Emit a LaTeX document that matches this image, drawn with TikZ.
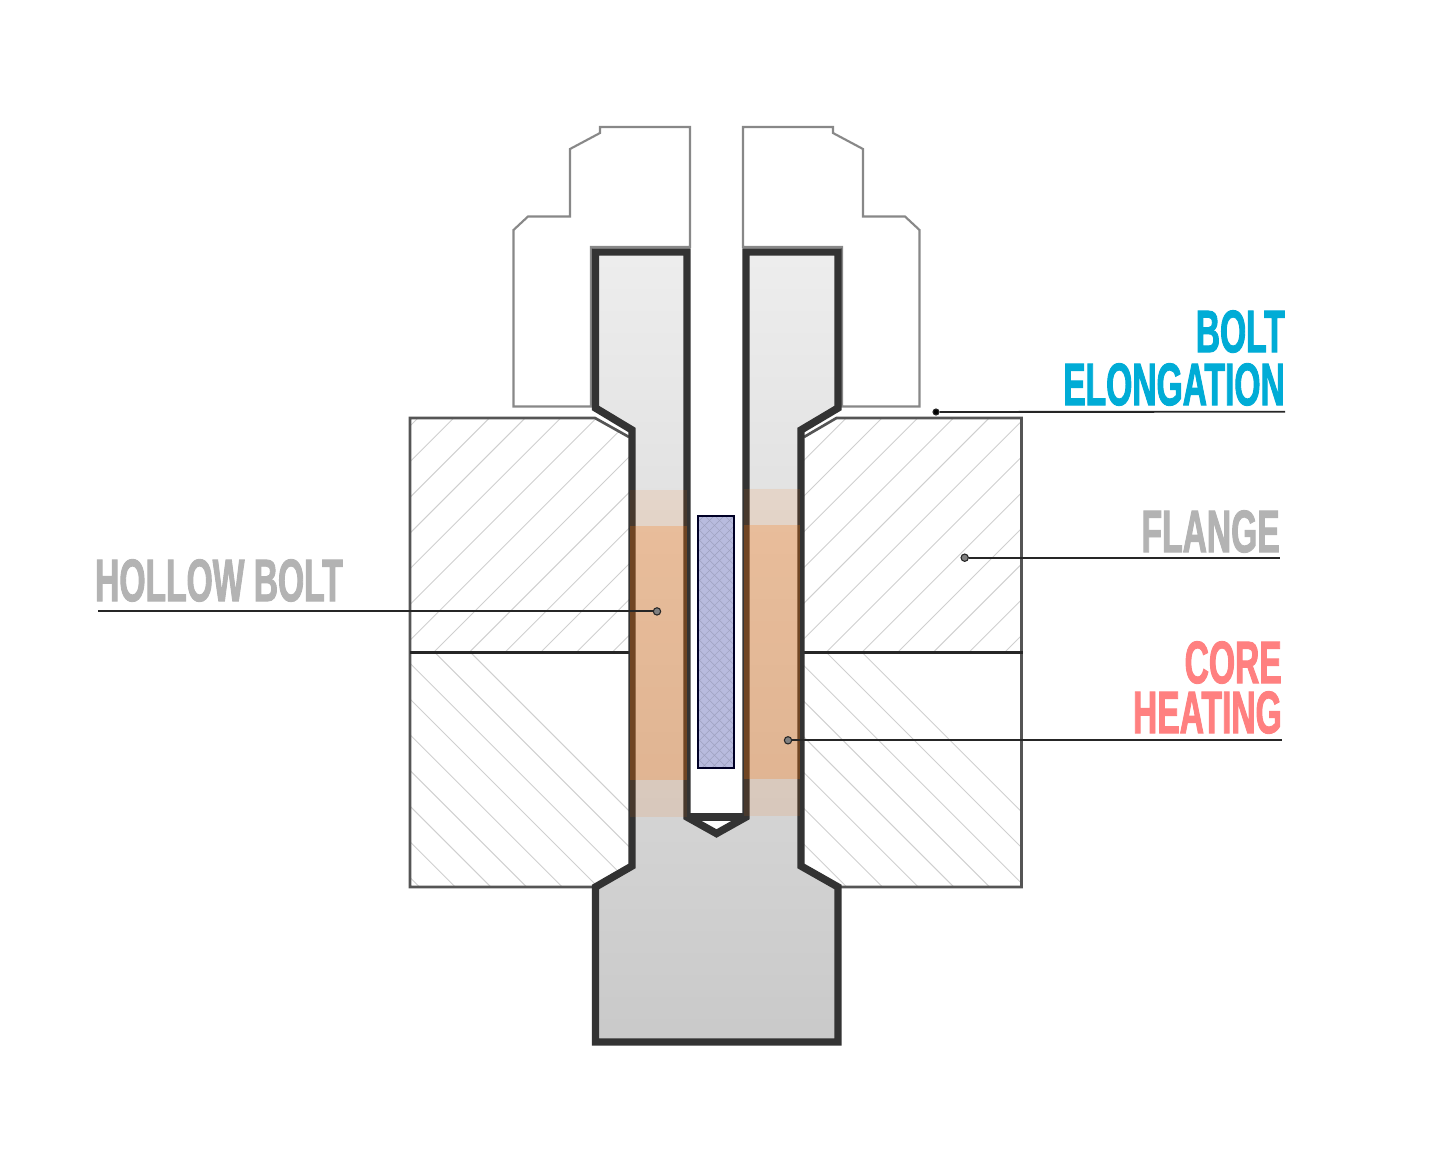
\documentclass[tikz,border=0pt]{standalone}
\usepackage{fontspec}
\usetikzlibrary{patterns.meta}
\newfontfamily\labelfont{Liberation Sans Bold}[FakeStretch=0.56,FakeBold=1.5]
\definecolor{boltdark}{HTML}{333333}
\definecolor{nutgrey}{HTML}{888888}
\definecolor{flangegrey}{HTML}{555555}
\definecolor{hatchgrey}{HTML}{CFCFCF}
\definecolor{heatorange}{RGB}{250,110,0}
\definecolor{sensorblue}{HTML}{B8BBDE}
\definecolor{labelblue}{HTML}{00ACD6}
\definecolor{labelgrey}{HTML}{B3B3B3}
\definecolor{labelred}{HTML}{FF8080}
\tikzset{
	nutline/.style={draw=nutgrey,line width=1.6pt,fill=white},
	flangeline/.style={draw=flangegrey,line width=2pt},
	jointline/.style={draw=black!85,line width=2.2pt},
	hatchline/.style={draw=hatchgrey,line width=0.7pt},
	boltline/.style={draw=boltdark,line width=5.6pt},
	leader/.style={draw=black!85,line width=1.4pt},
	leaderdot/.style={circle,draw=black!85,fill=black!50,line width=0.8pt,minimum size=5.5pt,inner sep=0pt},
	heatstrong/.style={fill=heatorange,fill opacity=0.31},
	heatweak/.style={fill=heatorange,fill opacity=0.11},
	bigtext/.style={labelfont,inner sep=0pt,align=right,anchor=south east},
	labelfont/.style={font=\labelfont\fontsize{45}{37.5}\selectfont}
}
\begin{document}
\begin{tikzpicture}[x=0.75pt,y=-0.75pt]
	\useasboundingbox (0,0) rectangle (1450,1160);
	% nut halves
	\draw[nutline] (690,127) -- (600,127) -- (600,133) -- (570,149) -- (570,216.5) -- (528,216.5) -- (513.5,230) -- (513.5,406.5) -- (591,406.5) -- (591,247) -- (690,247) -- cycle;
	\draw[nutline] (743,127) -- (833,127) -- (833,133) -- (863,149) -- (863,216.5) -- (905,216.5) -- (919.5,230) -- (919.5,406.5) -- (842,406.5) -- (842,247) -- (743,247) -- cycle;
	% flange hatching
	\begin{scope}
		\clip (410,418) -- (595,418) -- (629,437) -- (629,653) -- (410,653) -- cycle;
		\foreach \k in {-1,...,13}
			\draw[hatchline] (400,{871.7+35.7*\k-400}) -- (640,{871.7+35.7*\k-640});
	\end{scope}
	\begin{scope}
		\clip (1022,418) -- (836.5,418) -- (803,437) -- (803,653) -- (1022,653) -- cycle;
		\foreach \k in {-1,...,13}
			\draw[hatchline] (795,{1264.3+35.7*\k-795}) -- (1030,{1264.3+35.7*\k-1030});
	\end{scope}
	\begin{scope}
		\clip (410,653) -- (629,653) -- (629,866) -- (595,887) -- (410,887) -- cycle;
		\foreach \k in {-2,...,7}
			\draw[hatchline] (400,{253.3+35.7*\k+400}) -- (640,{253.3+35.7*\k+640});
	\end{scope}
	\begin{scope}
		\clip (803,653) -- (1022,653) -- (1022,887) -- (838,887) -- (803,866) -- cycle;
		\foreach \k in {-2,...,10}
			\draw[hatchline] (795,{-138.3+35.7*\k+795}) -- (1030,{-138.3+35.7*\k+1030});
	\end{scope}
	% flange outline
	\draw[flangeline] (629,437) -- (595,418) -- (410,418) -- (410,887) -- (595,887);
	\draw[flangeline] (804,437) -- (836.5,418) -- (1021.5,418) -- (1021.5,887) -- (838,887);
	\draw[jointline] (410,652.7) -- (630,652.7);
	\draw[jointline] (802,652.7) -- (1023,652.7);
	% hollow bolt
	\draw[boltline,top color=black!7,bottom color=black!21] (595.5,252) -- (687,252) -- (687,817) -- (716.5,833.5) -- (746,817) -- (746,252) -- (838,252) -- (838,408) -- (801,430) -- (801,866) -- (838,887) -- (838,1042) -- (595.5,1042) -- (595.5,887) -- (632,866) -- (632,430) -- (595.5,408) -- cycle;
	\draw[boltline] (687,817) -- (746,817);
	% heated zones
	\fill[heatweak] (630,489.5) rectangle (687,526);
	\fill[heatstrong] (630,526) rectangle (687,780);
	\fill[heatweak] (630,780) rectangle (687,816.5);
	\fill[heatweak] (744,488.5) rectangle (800,525);
	\fill[heatstrong] (744,525) rectangle (800,779);
	\fill[heatweak] (744,779) rectangle (800,815.5);
	% heater rod
	\fill[sensorblue] (698,516) rectangle (734,768);
	\fill[pattern={Lines[angle=45,distance=5.3pt,line width=0.35pt]},pattern color=black!14!sensorblue] (698,516) rectangle (734,768);
	\fill[pattern={Lines[angle=-45,distance=5.3pt,line width=0.35pt]},pattern color=black!14!sensorblue] (698,516) rectangle (734,768);
	\draw[draw=black!85!blue,line width=1pt] (698,516) rectangle (734,768);
	% leaders
	\node[leaderdot,fill=black,minimum size=4.5pt] (elongdot) at (936,412) {};
	\node[leaderdot] (flangedot) at (964.7,557.7) {};
	\node[leaderdot] (heatdot) at (788,740.3) {};
	\node[leaderdot] (bolldot) at (657,611.4) {};
	\coordinate (elongend) at (1285,411.7);
	\coordinate (flangeend) at (1280,557.7);
	\coordinate (heatend) at (1282,740.3);
	\coordinate (bolend) at (98,611.4);
	\draw[leader] (elongdot) -- (elongend);
	\draw[leader] (flangedot) -- (flangeend);
	\draw[leader] (heatdot) -- (heatend);
	\draw[leader] (bolldot) -- (bolend);
	% labels
	\node[bigtext,text=labelblue] (elonglabel) at (1285,406) {BOLT\\[2.2pt]ELONGATION};
	\node[bigtext,text=labelgrey] (flangelabel) at (1280,553) {FLANGE};
	\node[bigtext,text=labelred] (heatlabel) at (1282,734) {CORE\\HEATING};
	\node[bigtext,text=labelgrey] (bollabel) at (343,602) {HOLLOW BOLT};
\end{tikzpicture}
\end{document}
